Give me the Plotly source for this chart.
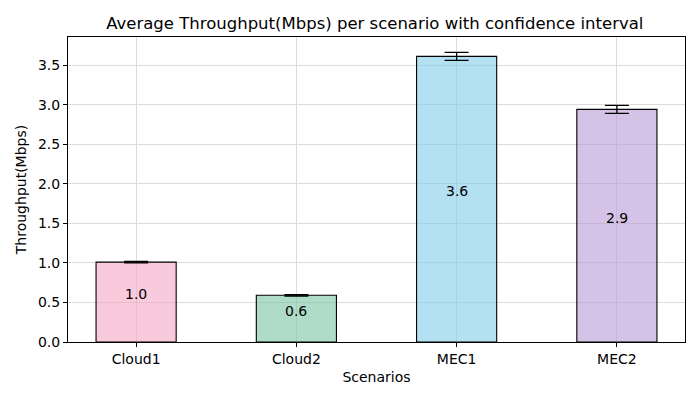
import plotly.graph_objects as go

scenarios = ["Cloud1", "Cloud2", "MEC1", "MEC2"]
throughput = [1.01, 0.59, 3.61, 2.94]
ci = [0.01, 0.01, 0.05, 0.05]
colors = ["rgba(245,165,197,0.6)", "rgba(122,197,163,0.6)",
          "rgba(128,205,232,0.6)", "rgba(183,155,213,0.6)"]

font = dict(family="DejaVu Sans", size=14, color="black")

fig = go.Figure()
fig.add_trace(go.Bar(x=scenarios, y=throughput, width=0.5,
                     marker=dict(color=colors, line=dict(color="black", width=1.1)),
                     error_y=dict(type="data", array=ci, color="black", thickness=1.3, width=12)))

# value labels in the middle of each bar
for s, v in zip(scenarios, throughput):
    fig.add_annotation(x=s, y=v / 2, text="%.1f" % v, showarrow=False,
                       yanchor="bottom", yshift=-2, font=font)

# the page has an 8px body margin, so shift the plot up/left by that much
fig.update_layout(
    width=700, height=400,
    margin=dict(l=58, r=23, t=29, b=66),
    plot_bgcolor="white", paper_bgcolor="white",
    font=font, showlegend=False,
    title=dict(text="Average Throughput(Mbps) per scenario with confidence interval",
               x=0.524, xanchor="center", y=0.9625, yanchor="middle",
               font=dict(family="DejaVu Sans", size=16.5, color="black")),
)
fig.update_xaxes(title=dict(text="Scenarios", standoff=6, font=font), range=[-0.425, 3.425],
                 showgrid=True, gridcolor="#dcdcdc", gridwidth=1,
                 showline=True, linecolor="black", linewidth=1, mirror=True,
                 ticks="outside", ticklen=4, tickcolor="black", tickfont=font)
fig.update_yaxes(title=dict(text="Throughput(Mbps)", standoff=8, font=font), range=[0, 3.855],
                 dtick=0.5, tickformat=".1f",
                 showgrid=True, gridcolor="#dcdcdc", gridwidth=1, zeroline=False,
                 showline=True, linecolor="black", linewidth=1, mirror=True,
                 ticks="outside", ticklen=4, tickcolor="black", tickfont=font)

fig.write_html("out.html")
